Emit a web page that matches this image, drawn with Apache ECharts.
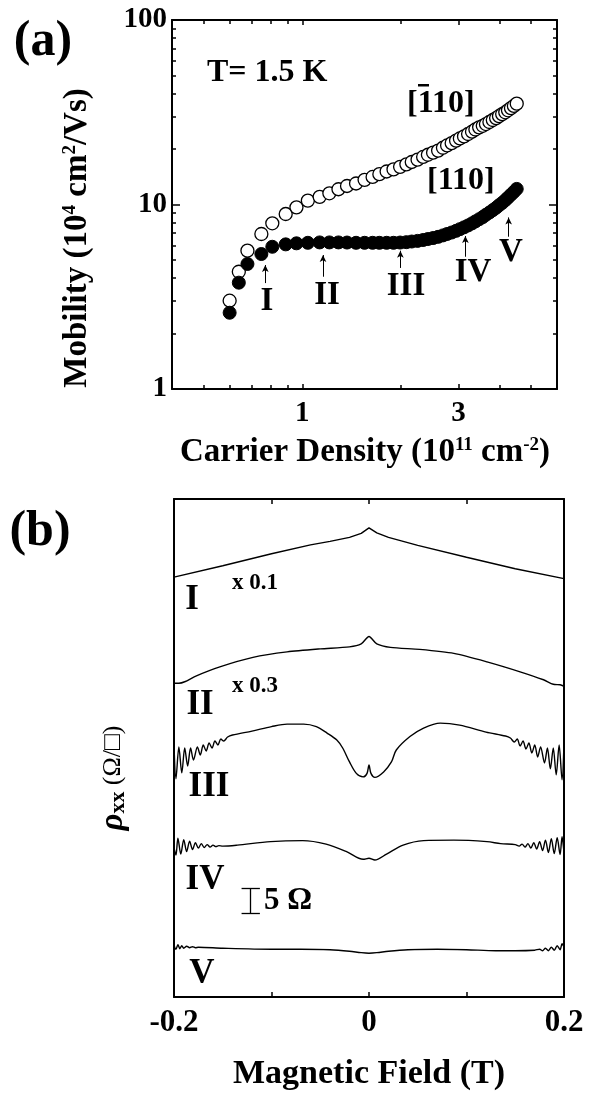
<!DOCTYPE html>
<html>
<head>
<meta charset="utf-8">
<script src="https://cdn.jsdelivr.net/npm/echarts@6/dist/echarts.min.js"></script>
<style>
  html, body { margin: 0; padding: 0; background: #fff; }
  #main { width: 602px; height: 1093px; }
</style>
</head>
<body>
<div id="main"></div>
<script>
// ===== (a) mobility vs carrier density, T = 1.5 K =====
const density = [0.60, 0.64, 0.68, 0.75, 0.81, 0.89, 0.96, 1.04, 1.13, 1.21, 1.29, 1.37, 1.46, 1.55,
  1.64, 1.72, 1.81, 1.90, 1.99, 2.08, 2.16, 2.25, 2.34, 2.42, 2.51, 2.60, 2.69, 2.77, 2.86, 2.95,
  3.03, 3.12, 3.21, 3.30, 3.38, 3.47, 3.56, 3.64, 3.73, 3.82, 3.91, 3.99, 4.08, 4.17, 4.25, 4.34, 4.43, 4.52];
// [-110] open circles
const mobilityBar110 = [3.01, 4.32, 5.62, 6.92, 7.91, 8.88, 9.65, 10.5, 11.0, 11.5, 12.1, 12.6, 13.0, 13.6,
  14.1, 14.6, 15.1, 15.5, 16.0, 16.5, 17.0, 17.5, 18.1, 18.6, 19.1, 19.6, 20.3, 20.9, 21.5, 22.2,
  22.8, 23.4, 24.1, 24.8, 25.5, 26.2, 26.7, 27.3, 28.0, 28.7, 29.4, 30.1, 30.9, 31.6, 32.4, 33.3, 34.2, 35.2];
// [110] filled circles
const mobility110 = [2.59, 3.77, 4.76, 5.39, 5.90, 6.08, 6.16, 6.20, 6.23, 6.23, 6.23, 6.22, 6.20, 6.20,
  6.20, 6.20, 6.20, 6.20, 6.22, 6.25, 6.30, 6.35, 6.42, 6.50, 6.58, 6.68, 6.80, 6.92, 7.05, 7.20,
  7.35, 7.52, 7.70, 7.90, 8.10, 8.32, 8.55, 8.80, 9.05, 9.32, 9.60, 9.90, 10.2, 10.55, 10.9, 11.3, 11.7, 12.15];

const densityRange = [0.4, 6];
const densityLabels = [1, 3];
const densityMinor = [0.5, 0.6, 0.7, 0.8, 0.9, 2, 4, 5];
const mobilityRange = [1, 100];
const mobilityLabels = [1, 10, 100];
const mobilityMinor = [2, 3, 4, 5, 6, 7, 8, 9, 20, 30, 40, 50, 60, 70, 80, 90];

// arrows marking the densities of traces I..V
const arrowNames = ['I', 'II', 'III', 'IV', 'V'];
const arrowDensity = [0.771, 1.157, 1.994, 3.15, 4.27];
const arrowFrom = [3.75, 4.06, 4.53, 5.21, 6.69];
const arrowTo = [4.70, 5.32, 5.62, 6.75, 8.51];

// ===== (b) rho_xx vs magnetic field (offset traces, Ω) =====
const fieldLabels = [-0.2, 0, 0.2];
const fieldTicks = [-0.1, 0, 0.1];
const traceI = [[-0.2, 84.3], [-0.15, 86.6], [-0.1, 89.0], [-0.06, 90.8], [-0.04, 91.5], [-0.02, 92.3],
  [-0.008, 93.1], [0, 94.2], [0.008, 93.2], [0.02, 92.3], [0.05, 90.7], [0.1, 88.3], [0.15, 86.0], [0.2, 84.0]];
const traceII = [[-0.2, 63.0], [-0.195, 63.0], [-0.189, 63.3], [-0.177, 64.5], [-0.153, 66.3], [-0.119, 68.2],
  [-0.084, 69.3], [-0.05, 69.9], [-0.02, 70.3], [-0.008, 70.9], [0, 72.4], [0.008, 70.9], [0.022, 70.2],
  [0.052, 69.8], [0.087, 69.0], [0.121, 67.3], [0.155, 65.3], [0.179, 63.7], [0.189, 62.8], [0.196, 62.7], [0.2, 62.4]];
const traceIII = [[-0.200, 50.6], [-0.198, 43.8], [-0.195, 50.2], [-0.192, 45.0], [-0.189, 50.0], [-0.186, 46.4],
  [-0.183, 50.0], [-0.180, 47.6], [-0.176, 50.2], [-0.173, 48.6], [-0.170, 50.6], [-0.167, 49.4], [-0.164, 51.0],
  [-0.161, 50.0], [-0.158, 51.4], [-0.155, 50.6], [-0.152, 51.8], [-0.149, 51.4], [-0.145, 52.2], [-0.140, 52.6],
  [-0.12, 53.4], [-0.10, 54.3], [-0.084, 54.8], [-0.067, 54.8], [-0.054, 54.3], [-0.043, 53.0], [-0.033, 51.6],
  [-0.027, 50.0], [-0.020, 47.2], [-0.013, 44.9], [-0.006, 44.2], [-0.002, 44.9], [0, 46.6], [0.002, 44.9],
  [0.006, 44.1], [0.015, 45.2], [0.023, 47.2], [0.028, 49.6], [0.042, 52.3], [0.056, 54.0], [0.073, 55.0],
  [0.093, 54.6], [0.12, 53.2], [0.140, 52.4], [0.145, 52.0], [0.149, 51.2], [0.152, 51.8], [0.155, 50.4],
  [0.158, 51.4], [0.161, 49.8], [0.164, 51.0], [0.167, 49.0], [0.170, 50.6], [0.173, 48.2], [0.176, 50.2],
  [0.180, 47.0], [0.183, 50.0], [0.186, 45.8], [0.189, 50.0], [0.192, 44.6], [0.195, 50.6], [0.198, 43.6], [0.200, 51.0]];
const traceIV = [[-0.200, 30.0], [-0.198, 28.5], [-0.196, 31.9], [-0.193, 28.7], [-0.190, 31.6], [-0.187, 29.2],
  [-0.184, 31.3], [-0.181, 29.6], [-0.178, 31.0], [-0.175, 29.9], [-0.172, 30.8], [-0.169, 30.0], [-0.166, 30.6],
  [-0.163, 30.1], [-0.160, 30.5], [-0.157, 30.2], [-0.154, 30.4], [-0.150, 30.3], [-0.135, 30.5], [-0.101, 31.2],
  [-0.068, 31.4], [-0.044, 30.7], [-0.023, 29.2], [-0.006, 27.65], [0, 27.85], [0.006, 27.5], [0.018, 28.7],
  [0.035, 30.5], [0.056, 31.4], [0.087, 31.5], [0.121, 31.2], [0.135, 30.8], [0.150, 30.6], [0.154, 30.3],
  [0.157, 30.7], [0.160, 30.1], [0.163, 30.8], [0.166, 29.9], [0.169, 31.0], [0.172, 29.7], [0.175, 31.2],
  [0.178, 29.4], [0.181, 31.5], [0.184, 29.0], [0.187, 31.8], [0.190, 28.8], [0.193, 32.0], [0.196, 28.6],
  [0.198, 32.2], [0.200, 29.0]];
const traceV = [[-0.200, 10.4], [-0.198, 9.6], [-0.196, 10.5], [-0.194, 9.7], [-0.192, 10.3], [-0.190, 9.8],
  [-0.187, 10.2], [-0.184, 9.9], [-0.181, 10.1], [-0.178, 9.9], [-0.175, 10.0], [-0.15, 9.8], [-0.10, 9.6],
  [-0.07, 9.6], [-0.04, 9.5], [-0.02, 9.2], [-0.008, 8.9], [0, 8.8], [0.008, 8.9], [0.02, 9.2], [0.04, 9.5],
  [0.07, 9.6], [0.10, 9.5], [0.13, 9.3], [0.15, 9.3], [0.17, 9.4], [0.175, 9.6], [0.178, 9.3], [0.181, 9.8],
  [0.184, 9.3], [0.187, 10.0], [0.190, 9.4], [0.193, 10.3], [0.196, 9.5], [0.198, 10.7], [0.200, 10.0]];

// 5 Ω scale bar
const scaleBarField = -0.1213;
const scaleBarBottom = 16.8;
const scaleBarOhm = 5;
const scaleBarCap = 0.0094;

// ===== helpers =====
const FONT = "'Liberation Serif', 'Times New Roman', serif";
const lg = Math.log10;
const BLACK = '#000';

function frameAxis(gridIndex, position, min, max, opt) {
  opt = opt || {};
  return {
    gridIndex, position, type: 'value', min, max,
    axisLine: { show: opt.line !== false, onZero: false, lineStyle: { color: BLACK, width: 2 } },
    axisTick: opt.ticks
      ? { show: true, inside: true, length: opt.tickLen || 5, customValues: opt.ticks, lineStyle: { color: BLACK, width: 1.5 } }
      : { show: false },
    axisLabel: opt.labels
      ? { show: true, customValues: opt.labels, formatter: opt.formatter, color: BLACK,
          fontFamily: FONT, fontWeight: 'bold', fontSize: opt.fontSize || 29, margin: opt.margin || 8 }
      : { show: false },
    splitLine: { show: false }
  };
}

// centred or left-aligned bold text
function txt(text, x, y, size, align) {
  return {
    type: 'text', x, y, silent: true,
    style: { text, fill: BLACK, fontFamily: FONT, fontWeight: 'bold', fontSize: size, align: align || 'center', verticalAlign: 'middle' }
  };
}

const xA = [lg(densityRange[0]), lg(densityRange[1])];
const yA = [lg(mobilityRange[0]), lg(mobilityRange[1])];
const pow10 = v => String(Math.round(Math.pow(10, v)));
const fieldFmt = v => (Math.abs(v) < 1e-9 ? '0' : v.toFixed(1));

const chart = echarts.init(document.getElementById('main'), null, { renderer: 'canvas' });

const arrowLines = arrowDensity.map((n, i) => [
  { coord: [lg(n), lg(arrowFrom[i])] },
  { coord: [lg(n), lg(arrowTo[i])] }
]);

const bx = scaleBarField, by0 = scaleBarBottom, by1 = scaleBarBottom + scaleBarOhm;
const scaleBarLines = [
  [{ coord: [bx, by0] }, { coord: [bx, by1] }],
  [{ coord: [bx - scaleBarCap, by0] }, { coord: [bx + scaleBarCap, by0] }],
  [{ coord: [bx - scaleBarCap, by1] }, { coord: [bx + scaleBarCap, by1] }]
];

const traceStyle = { color: BLACK, width: 1.4 };
const supStyle = { fontFamily: FONT, fontWeight: 'bold', fontSize: 19, verticalAlign: 'top', fill: BLACK };

const option = {
  animation: false,
  backgroundColor: '#fff',
  grid: [
    { left: 172, top: 20, width: 385, height: 369 },
    { left: 174, top: 499, width: 390, height: 498 }
  ],
  xAxis: [
    frameAxis(0, 'bottom', xA[0], xA[1], { ticks: densityLabels.map(lg), tickLen: 5, labels: densityLabels.map(lg), formatter: pow10, margin: 10 }),
    frameAxis(0, 'bottom', xA[0], xA[1], { line: false, ticks: densityMinor.map(lg), tickLen: 4 }),
    frameAxis(0, 'top', xA[0], xA[1], { ticks: densityLabels.map(lg), tickLen: 5 }),
    frameAxis(0, 'top', xA[0], xA[1], { line: false, ticks: densityMinor.map(lg), tickLen: 4 }),
    frameAxis(1, 'bottom', -0.2, 0.2, { ticks: fieldTicks, tickLen: 5, labels: fieldLabels, formatter: fieldFmt, fontSize: 31, margin: 10 }),
    frameAxis(1, 'top', -0.2, 0.2, { ticks: fieldTicks, tickLen: 5 })
  ],
  yAxis: [
    frameAxis(0, 'left', yA[0], yA[1], { ticks: mobilityLabels.map(lg), tickLen: 8, labels: mobilityLabels.map(lg), formatter: pow10, margin: 5 }),
    frameAxis(0, 'left', yA[0], yA[1], { line: false, ticks: mobilityMinor.map(lg), tickLen: 4 }),
    frameAxis(0, 'right', yA[0], yA[1], { ticks: mobilityLabels.map(lg), tickLen: 8 }),
    frameAxis(0, 'right', yA[0], yA[1], { line: false, ticks: mobilityMinor.map(lg), tickLen: 4 }),
    frameAxis(1, 'left', 0, 100, {}),
    frameAxis(1, 'right', 0, 100, {})
  ],
  series: [
    {
      name: '[-110]', type: 'scatter', xAxisIndex: 0, yAxisIndex: 0,
      data: density.map((n, i) => [lg(n), lg(mobilityBar110[i])]),
      symbol: 'circle', symbolSize: 13,
      itemStyle: { color: '#fff', borderColor: BLACK, borderWidth: 1.3, opacity: 1 },
      silent: true
    },
    {
      name: '[110]', type: 'scatter', xAxisIndex: 0, yAxisIndex: 0,
      data: density.map((n, i) => [lg(n), lg(mobility110[i])]),
      symbol: 'circle', symbolSize: 13,
      itemStyle: { color: BLACK, borderColor: BLACK, borderWidth: 1, opacity: 1 },
      silent: true,
      markLine: {
        silent: true, symbol: ['none', 'arrow'], symbolSize: [5, 7],
        lineStyle: { color: BLACK, width: 1, type: 'solid' },
        label: { show: false },
        data: arrowLines
      }
    },
    { name: 'I', type: 'line', xAxisIndex: 4, yAxisIndex: 4, data: traceI, showSymbol: false, lineStyle: traceStyle, silent: true },
    { name: 'II', type: 'line', xAxisIndex: 4, yAxisIndex: 4, data: traceII, showSymbol: false, smooth: 0.25, lineStyle: traceStyle, silent: true },
    { name: 'III', type: 'line', xAxisIndex: 4, yAxisIndex: 4, data: traceIII, showSymbol: false, smooth: 0.3, lineStyle: traceStyle, silent: true },
    { name: 'IV', type: 'line', xAxisIndex: 4, yAxisIndex: 4, data: traceIV, showSymbol: false, smooth: 0.3, lineStyle: traceStyle, silent: true },
    {
      name: 'V', type: 'line', xAxisIndex: 4, yAxisIndex: 4, data: traceV, showSymbol: false, smooth: 0.3, lineStyle: traceStyle, silent: true,
      markLine: {
        silent: true, symbol: ['none', 'none'],
        lineStyle: { color: BLACK, width: 1.3, type: 'solid' },
        label: { show: false },
        data: scaleBarLines
      }
    }
  ],
  graphic: [
    txt('(a)', 43, 42, 50),
    txt('(b)', 40, 532, 50),
    txt('T= 1.5 K', 207, 73, 32, 'left'),
    txt('[110]', 407, 104, 32, 'left'),
    { type: 'rect', silent: true, shape: { x: 418, y: 84, width: 11, height: 2.5 }, style: { fill: BLACK } },
    txt('[110]', 427, 181, 32, 'left'),
    txt('I', 267, 301, 33),
    txt('II', 327, 295, 33),
    txt('III', 406, 286, 33),
    txt('IV', 473, 272, 33),
    txt('V', 511, 252, 33),
    {
      type: 'text', x: 365, y: 452, silent: true,
      style: {
        text: 'Carrier Density (10{sup|11} cm{sup|-2})', fill: BLACK,
        fontFamily: FONT, fontWeight: 'bold', fontSize: 33, align: 'center', verticalAlign: 'middle',
        rich: { sup: supStyle }
      }
    },
    {
      type: 'text', x: 77, y: 238, rotation: Math.PI / 2, silent: true,
      style: {
        text: 'Mobility (10{sup|4} cm{sup|2}/Vs)', fill: BLACK,
        fontFamily: FONT, fontWeight: 'bold', fontSize: 33, align: 'center', verticalAlign: 'middle',
        rich: { sup: supStyle }
      }
    },
    txt('I', 192, 600, 35),
    txt('II', 200, 705, 35),
    txt('III', 209, 787, 35),
    txt('IV', 205, 880, 35),
    txt('V', 202, 974, 35),
    txt('x 0.1', 232, 583, 23, 'left'),
    txt('x 0.3', 232, 686, 23, 'left'),
    txt('5 Ω', 264, 901, 31, 'left'),
    {
      type: 'text', x: 113, y: 778, rotation: Math.PI / 2, silent: true,
      style: {
        text: '{rho|ρ}{sub|xx} {u|(Ω/□)}', fill: BLACK,
        fontFamily: FONT, fontSize: 25, align: 'center', verticalAlign: 'middle',
        rich: {
          rho: { fontFamily: FONT, fontWeight: 'bold', fontStyle: 'italic', fontSize: 33, fill: BLACK },
          sub: { fontFamily: FONT, fontWeight: 'bold', fontSize: 22, verticalAlign: 'bottom', fill: BLACK },
          u: { fontFamily: FONT, fontSize: 26, fill: BLACK }
        }
      }
    },
    txt('Magnetic Field (T)', 369, 1074, 34)
  ]
};

chart.setOption(option);
</script>
</body>
</html>
